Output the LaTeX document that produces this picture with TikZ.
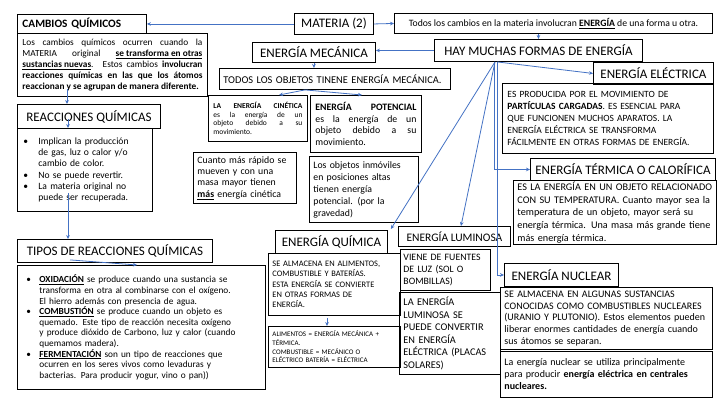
\documentclass[tikz,border=0pt]{standalone}
\usepackage{fontspec}
\setmainfont{Carlito}
\usetikzlibrary{arrows.meta,calc}
\definecolor{conn}{HTML}{4472C4}
\newcommand\fs[2]{\fontsize{#1}{#2}\selectfont}
\newcommand\bitem[2]{\hspace*{#1}\makebox[#2][l]{\textbullet}}
\tikzset{
  bx/.style={draw=black, line width=0.9pt, anchor=north west, inner xsep=4pt, inner ysep=1pt, align=left},
  ttl/.style={draw=black, line width=0.9pt, anchor=north west, inner xsep=3pt, inner ysep=1pt, align=center, font=\fs{13}{15}},
  arr/.style={draw=conn, line width=0.8pt, -{Stealth[length=4pt,width=3.6pt]}},
}
\begin{document}
\begin{tikzpicture}[x=1pt,y=-1pt]
\fill[white] (0,0) rectangle (720,405);
\useasboundingbox (0,0) rectangle (720,405);

% left column
\node[bx, font=\fs{11.3}{13}\bfseries, text width=119pt, minimum height=19pt, inner xsep=5pt] (cq) at (17,14) {CAMBIOS QUÍMICOS};
\node[bx, align=justify, font=\fs{9.3}{11}, text width=180pt, inner xsep=5pt, minimum height=63pt] (cqt) at (17,33) {Los cambios químicos ocurren cuando la\linebreak MATERIA original \textbf{\underline{se transforma en otras}}\linebreak \textbf{\underline{sustancias nuevas}}. Estos cambios \textbf{involucran}\linebreak \textbf{reacciones químicas en las que los átomos}\linebreak \textbf{reaccionan y se agrupan de manera diferente.}};
\node[ttl, minimum width=143pt, minimum height=24pt] (reac) at (17,104) {REACCIONES QUÍMICAS};
\node[bx, font=\fs{9.6}{11.3}, text width=127pt, minimum height=83pt] (rb) at (17,128) {\bitem{2pt}{15pt}Implican la producción\\\hspace*{17pt}de gas, luz o calor y/o\\\hspace*{17pt}cambio de color.\\\bitem{2pt}{15pt}No se puede revertir.\\\bitem{2pt}{15pt}La materia original no\\\hspace*{17pt}puede ser recuperada.};
\node[ttl, minimum width=195pt, minimum height=23pt] (tipos) at (17,239) {TIPOS DE REACCIONES QUÍMICAS};
\node[bx, font=\fs{9.3}{10.6}, text width=240pt, minimum height=124pt] (tb) at (17,265) {\bitem{5pt}{13pt}\textbf{\underline{OXIDACIÓN}} se produce cuando una sustancia se\\\hspace*{18pt}transforma en otra al combinarse con el oxígeno.\\\hspace*{18pt}El hierro además con presencia de agua.\\\bitem{5pt}{13pt}\textbf{\underline{COMBUSTIÓN}} se produce cuando un objeto es\\\hspace*{18pt}quemado. Este tipo de reacción necesita oxígeno\\\hspace*{18pt}y produce dióxido de Carbono, luz y calor (cuando\\\hspace*{18pt}quemamos madera).\\\bitem{5pt}{13pt}\textbf{\underline{FERMENTACIÓN}} son un tipo de reacciones que\\\hspace*{18pt}ocurren en los seres vivos como levaduras y\\\hspace*{18pt}bacterias. Para producir yogur, vino o pan))};

% top centre
\node[ttl, minimum width=79pt, minimum height=21pt] (mat) at (294,13) {MATERIA (2)};
\node[ttl, font=\fs{9.7}{11}, minimum width=318pt, minimum height=20pt] (todos) at (394,13) {Todos los cambios en la materia involucran \underline{\textbf{ENERGÍA}} de una forma u otra.};
\node[ttl, minimum width=123pt, minimum height=20pt] (mec) at (252,42) {ENERGÍA MECÁNICA};
\node[ttl, minimum width=208pt, minimum height=22pt] (hay) at (434,39) {HAY MUCHAS FORMAS DE ENERGÍA};
\node[bx, font=\fs{10.4}{12}, text width=223pt, minimum height=21pt] (tobj) at (219,68) {TODOS LOS OBJETOS TINENE ENERGÍA MECÁNICA.};
\node[bx, align=justify, font=\fs{7.5}{8.4}, text width=89pt, inner xsep=5pt, minimum height=46pt] (cin) at (208,95) {\textbf{LA ENERGÍA CINÉTICA}\linebreak es la energía de un\linebreak objeto debido a su\linebreak movimiento.};
\node[bx, align=justify, font=\fs{9.8}{11.5}, text width=101pt, inner xsep=5pt, minimum height=57pt] (pot) at (310,95) {\textbf{ENERGÍA POTENCIAL}\linebreak es la energía de un\linebreak objeto debido a su\linebreak movimiento.};
\node[bx, font=\fs{9.8}{11.3}, text width=95pt, minimum height=51pt] (cua) at (193,152) {Cuanto más rápido se\\mueven y con una\\masa mayor tienen\\\underline{\textbf{más}} energía cinética};
\node[bx, font=\fs{9.8}{12}, text width=101pt, minimum height=66pt] (inm) at (309,156) {Los objetos inmóviles\\en posiciones altas\\tienen energía\\potencial. (por la\\gravedad)};

% right column
\node[ttl, minimum width=120pt, minimum height=22pt] (elec) at (593,62) {ENERGÍA ELÉCTRICA};
\node[bx, font=\fs{9.5}{11.8}, text width=201pt, inner xsep=5pt, minimum height=70pt] (elect) at (502,83) {ES PRODUCIDA POR EL MOVIMIENTO DE\\\textbf{PARTÍCULAS CARGADAS}. ES ESENCIAL PARA\\QUE FUNCIONEN MUCHOS APARATOS. LA\\ENERGÍA ELÉCTRICA SE TRANSFORMA\\FÁCILMENTE EN OTRAS FORMAS DE ENERGÍA.};
\node[ttl, minimum width=185pt, minimum height=22pt] (term) at (530,158) {ENERGÍA TÉRMICA O CALORÍFICA};
\node[bx, font=\fs{10.2}{12.6}, text width=195pt, inner xsep=4pt, minimum height=64pt] (termt) at (513,180) {ES LA ENERGÍA EN UN OBJETO RELACIONADO\\CON SU TEMPERATURA. Cuanto mayor sea la\\temperatura de un objeto, mayor será su\\energía térmica. Una masa más grande tiene\\más energía térmica.};

% bottom middle
\node[ttl, minimum width=112pt, minimum height=23pt] (quim) at (275,230) {ENERGÍA QUÍMICA};
\node[bx, font=\fs{8.4}{10.3}, text width=124pt, minimum height=62pt] (quimt) at (268,253) {SE ALMACENA EN ALIMENTOS,\\COMBUSTIBLE Y BATERÍAS.\\ESTA ENERGÍA SE CONVIERTE\\EN OTRAS FORMAS DE\\ENERGÍA.};
\node[bx, font=\fs{7}{8.6}, text width=124pt, minimum height=41pt] (alim) at (268,326) {ALIMENTOS = ENERGÍA MECÁNICA +\\TÉRMICA.\\COMBUSTIBLE = MECÁNICO O\\ELÉCTRICO BATERÍA = ELÉCTRICA};
\node[ttl, font=\fs{11.5}{13}, minimum width=112pt, minimum height=20pt] (lum) at (398,226) {ENERGÍA LUMINOSA};
\node[bx, font=\fs{9.8}{12.4}, text width=84pt, inner xsep=3pt, minimum height=41pt] (lumt1) at (400,249) {VIENE DE FUENTES\\DE LUZ (SOL O\\BOMBILLAS)};
\node[bx, font=\fs{10.3}{12.5}, text width=93pt, minimum height=82pt] (lumt2) at (399,292) {LA ENERGÍA\\LUMINOSA SE\\PUEDE CONVERTIR\\EN ENERGÍA\\ELÉCTRICA (PLACAS\\SOLARES)};

\node[ttl, minimum width=114pt, inner xsep=2pt, minimum height=23pt] (nuc) at (504,263) {ENERGÍA NUCLEAR};
\node[bx, font=\fs{10}{11.8}, text width=204pt, minimum height=62pt] (nuct) at (500,287) {SE ALMACENA EN ALGUNAS SUSTANCIAS\\CONOCIDAS COMO COMBUSTIBLES NUCLEARES\\(URANIO Y PLUTONIO). Estos elementos pueden\\liberar enormes cantidades de energía cuando\\sus átomos se separan.};
\node[bx, font=\fs{10}{12}, text width=204pt, minimum height=46pt] (nuct2) at (500,351) {La energía nuclear se utiliza principalmente\\para producir \textbf{energía eléctrica en centrales}\\\textbf{nucleares.}};

% connectors
\draw[arr] (mat.west) -- (cq.east);
\draw[arr] (mat.east) -- (todos.west);
\draw[arr] (hay.north |- todos.south) -- (hay.north);
\draw[arr] (hay.west) -- (hay.west -| mec.east);
\draw[arr] (mec.south) -- (mec.south |- tobj.north);
\draw[arr] ($(tobj.south west)+(86,0)$) -- ($(cin.north west)+(71,0)$);
\draw[arr] ($(tobj.south west)+(86,0)$) -- ($(pot.north west)+(52,0)$);
\draw[arr] ($(cqt.south west)+(50,-8)$) -- ($(reac.north west)+(50,0)$);
\draw[arr] ($(reac.south west)+(51,-10)$) -- ($(rb.north west)+(51,0)$);
\draw[arr] ($(rb.south west)+(51,-19)$) -- ($(tipos.north west)+(51,0)$);
\draw[arr] ($(tipos.south west)+(53,-3)$) -- ($(tb.north west)+(120,0)$);
\draw[arr] ($(hay.south west)+(63,0)$) -- (elec.west);
\draw[arr] ($(hay.south west)+(60,0)$) |- (term.west);
\draw[arr] ($(hay.south west)+(63,0)$) |- (nuc.west);
\draw[arr] ($(hay.south west)+(61,0)$) -- ($(quim.north east)+(3,-1)$);
\draw[arr] ($(hay.south west)+(61,0)$) -- ($(lum.north west)+(63,0)$);
\draw[arr] ($(quimt.south west)+(59,2)$) -- ($(alim.north west)+(59,0)$);
\end{tikzpicture}
\end{document}
